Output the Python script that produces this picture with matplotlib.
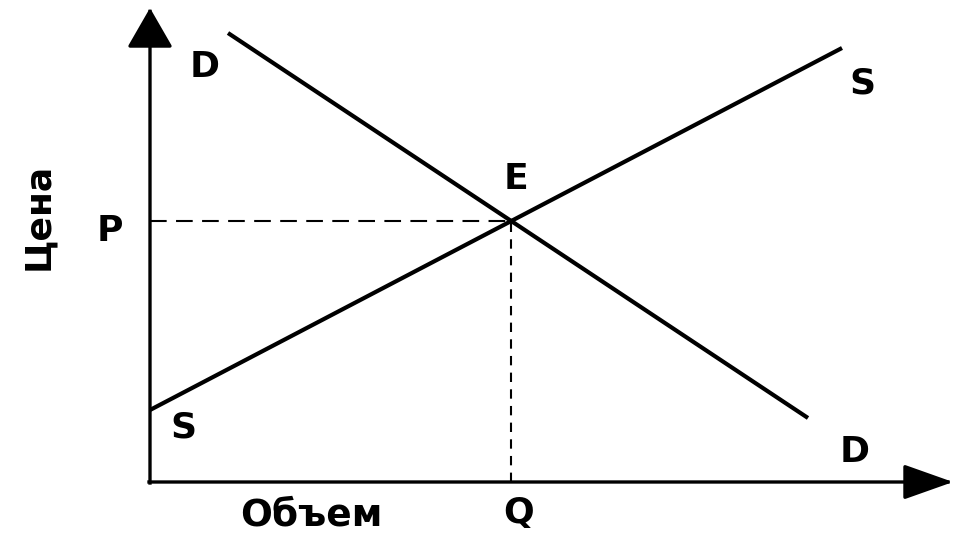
import matplotlib.pyplot as plt

# demand and supply lines (quantity, price) in chart units
demand_q = [78, 658]
demand_p = [449, 64]
supply_q = [0, 692]
supply_p = [72, 434]

# labels: text, x, y
curve_labels = [
    ("D", 55, 415),
    ("S", 712, 399),
    ("S", 33, 54),
    ("D", 705, 30),
]

# equilibrium from the two lines
ds = (demand_p[1] - demand_p[0]) / (demand_q[1] - demand_q[0])
ss = (supply_p[1] - supply_p[0]) / (supply_q[1] - supply_q[0])
eq_q = (supply_p[0] - demand_p[0] + ds * demand_q[0]) / (ds - ss)
eq_p = supply_p[0] + ss * eq_q

plt.rcParams['font.family'] = ['DejaVu Sans']

fig = plt.figure(figsize=(9.55, 5.36), dpi=100)
ax = fig.add_axes([0, 0, 1, 1])
ax.set_xlim(-150, 805)
ax.set_ylim(-54, 482)
ax.axis('off')

# axes with arrows
ax.annotate('', xy=(803, 0), xytext=(-1, 0),
            arrowprops=dict(arrowstyle='-|>,head_length=1.55,head_width=0.55',
                            mutation_scale=20, lw=2.4, color='black',
                            shrinkA=0, shrinkB=0, capstyle='projecting'))
ax.annotate('', xy=(0, 474), xytext=(0, -1),
            arrowprops=dict(arrowstyle='-|>,head_length=1.25,head_width=0.72',
                            mutation_scale=20, lw=2.4, color='black',
                            shrinkA=0, shrinkB=0, capstyle='projecting'))

ax.plot(demand_q, demand_p, color='black', lw=3.0, solid_capstyle='butt')
ax.plot(supply_q, supply_p, color='black', lw=3.0, solid_capstyle='butt')

# dashed guides
ax.plot([0, eq_q], [eq_p, eq_p], color='black', lw=1.5, ls=(0, (8, 4.5)))
ax.plot([eq_q, eq_q], [0, eq_p], color='black', lw=1.5, ls=(0, (4.5, 3.5)))

fs = 26
for txt, x, y in curve_labels:
    ax.text(x, y, txt, fontsize=fs, fontweight='bold', ha='center', va='center')
ax.text(eq_q + 5, eq_p + 42, "E", fontsize=fs, fontweight='bold', ha='center', va='center')
ax.text(-40, eq_p - 10, "P", fontsize=fs, fontweight='bold', ha='center', va='center')
ax.text(eq_q + 7, -31, "Q", fontsize=fs, fontweight='bold', ha='center', va='center')
ax.text(161, -33, "Объем", fontsize=27, fontweight='bold', ha='center', va='center')
ax.text(-112, 266, "Цена", fontsize=26, fontweight='bold', ha='center', va='center', rotation=90)

fig.savefig('out.png', dpi=100)
